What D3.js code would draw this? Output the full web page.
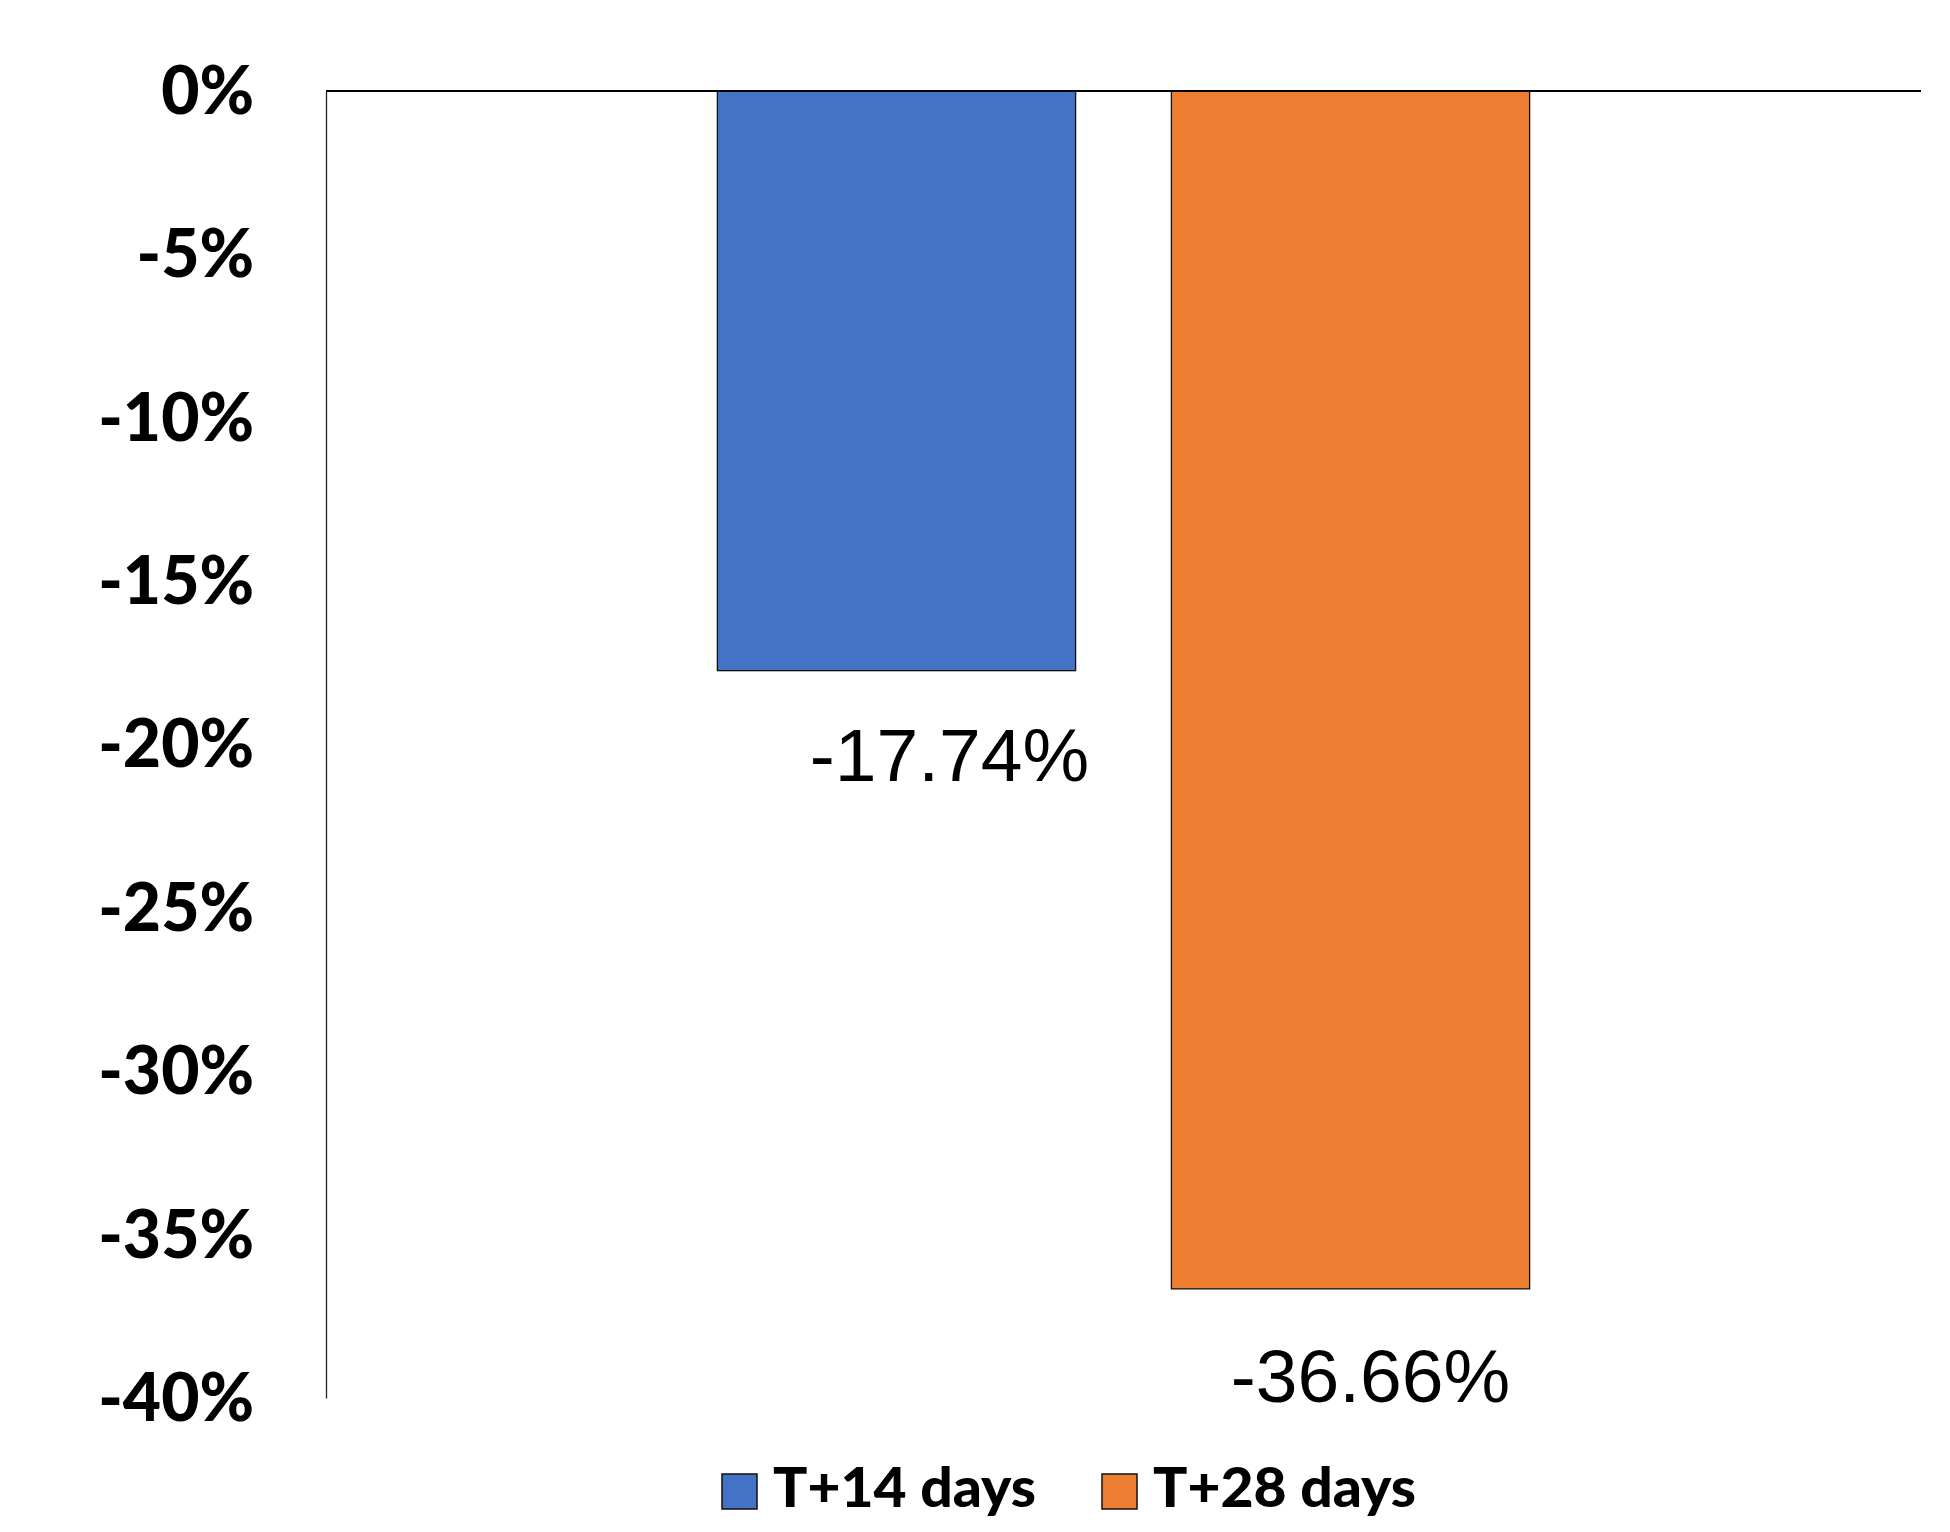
<!DOCTYPE html>
<html>
<head>
<meta charset="utf-8">
<script src="https://cdn.jsdelivr.net/npm/d3@7"></script>
<style>
  html, body { margin: 0; padding: 0; background: #fff; }
  svg { display: block; }
</style>
</head>
<body>
<svg id="chart" width="1950" height="1532"></svg>
<script>
// Series and values
const seriesNames = ["T+14 days", "T+28 days"];
const seriesValues = [-17.74, -36.66];
const seriesColors = ["#4472C4", "#ED7D31"];
const tickValues = [0, -5, -10, -15, -20, -25, -30, -35, -40];

// Layout
const W = 1950, H = 1532;
const plot = { left: 326, right: 1921, top: 91, bottom: 1398 };
// value labels sit below each bar, nudged by hand
const labelNudge = [{ dx: 53, dy: 110 }, { dx: 20, dy: 113 }];

const svg = d3.select("#chart");

const y = d3.scaleLinear().domain([0, -40]).range([plot.top, plot.bottom]);
const x = d3.scaleBand()
  .domain(seriesNames)
  .range([plot.left, plot.right])
  .paddingInner(0.211)
  .paddingOuter(0.862);

// Bars
svg.append("g").selectAll("rect")
  .data(seriesNames)
  .join("rect")
  .attr("x", d => x(d))
  .attr("width", x.bandwidth())
  .attr("y", y(0))
  .attr("height", (d, i) => y(seriesValues[i]) - y(0))
  .attr("fill", (d, i) => seriesColors[i])
  .attr("stroke", "#111")
  .attr("stroke-width", 1.3);

// Vertical axis with tick labels (no tick marks)
const yAxis = d3.axisLeft(y)
  .tickValues(tickValues)
  .tickSize(0)
  .tickPadding(72)
  .tickFormat(d => d + "%");

const gy = svg.append("g")
  .attr("transform", `translate(${plot.left},0)`)
  .call(yAxis);
gy.select(".domain").attr("stroke", "#222").attr("stroke-width", 1.3);
gy.selectAll(".tick text")
  .attr("font-family", "Lato, 'Open Sans', sans-serif")
  .attr("font-weight", 900)
  .attr("font-size", 66)
  .attr("fill", "#000")
  .attr("dy", "0.34em");

// Zero line across the plot
svg.append("line")
  .attr("x1", plot.left).attr("x2", plot.right)
  .attr("y1", y(0)).attr("y2", y(0))
  .attr("stroke", "#000")
  .attr("stroke-width", 2.2);

// Value labels
svg.append("g").selectAll("text")
  .data(seriesNames)
  .join("text")
  .attr("x", (d, i) => x(d) + x.bandwidth() / 2 + labelNudge[i].dx)
  .attr("y", (d, i) => y(seriesValues[i]) + labelNudge[i].dy)
  .attr("text-anchor", "middle")
  .attr("font-family", "'Liberation Sans', Arial, sans-serif")
  .attr("font-size", 75)
  .attr("fill", "#000")
  .text((d, i) => seriesValues[i].toFixed(2) + "%");

// Legend
const legendItems = [
  { sx: 722, tx: 773, tw: 263 },
  { sx: 1102, tx: 1153, tw: 263 }
];
const legend = svg.append("g");
seriesNames.forEach((name, i) => {
  const it = legendItems[i];
  legend.append("rect")
    .attr("x", it.sx).attr("y", 1474)
    .attr("width", 35).attr("height", 35)
    .attr("fill", seriesColors[i])
    .attr("stroke", "#111")
    .attr("stroke-width", 1.5);
  legend.append("text")
    .attr("x", it.tx).attr("y", 1507)
    .attr("font-family", "Lato, 'Open Sans', sans-serif")
    .attr("font-weight", 900)
    .attr("font-size", 55)
    .attr("textLength", it.tw)
    .attr("lengthAdjust", "spacingAndGlyphs")
    .attr("fill", "#000")
    .text(name);
});
</script>
</body>
</html>
